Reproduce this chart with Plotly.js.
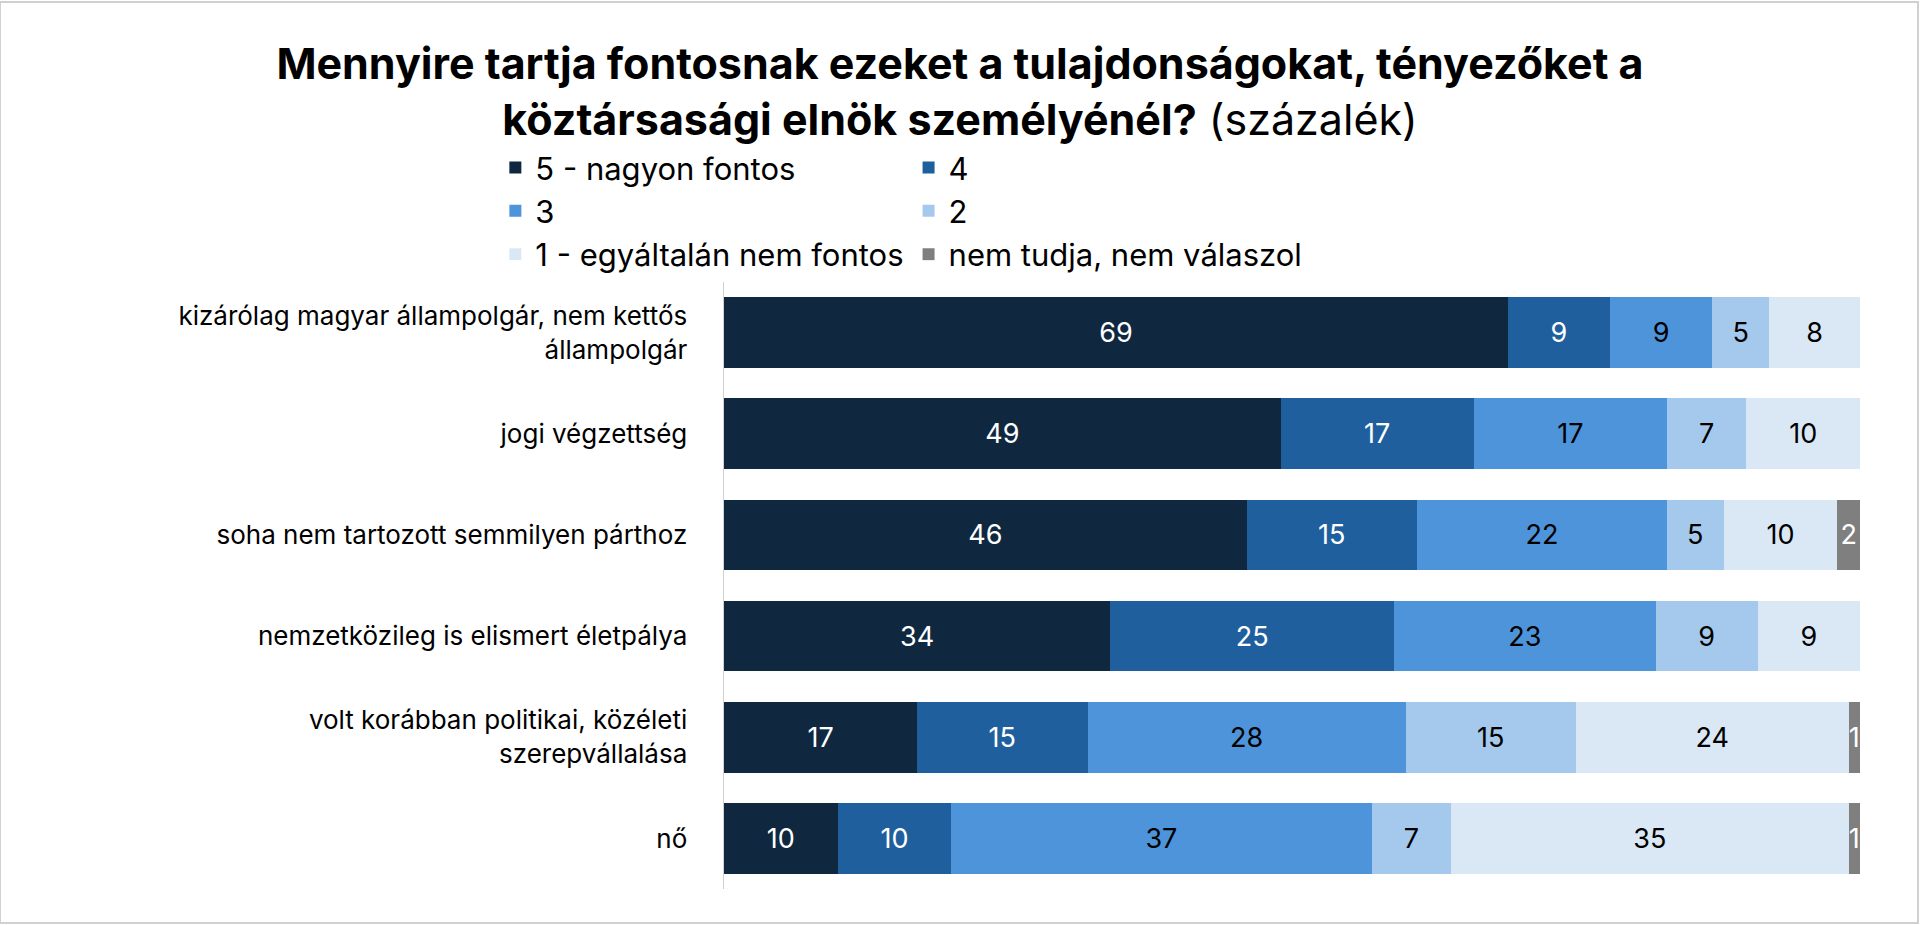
<!DOCTYPE html>
<html>
<head>
<meta charset="utf-8">
<script src="https://cdn.plot.ly/plotly-3.0.1.min.js"></script>
<style>
  html, body { margin: 0; padding: 0; background: #fff; }
  #chart { width: 1920px; height: 925px; }
</style>
</head>
<body>
<div id="chart"></div>
<script>
// Categories, top to bottom
const categories = [
    'kizárólag magyar állampolgár, nem kettős<br>állampolgár',
    'jogi végzettség',
    'soha nem tartozott semmilyen párthoz',
    'nemzetközileg is elismert életpálya',
    'volt korábban politikai, közéleti<br>szerepvállalása',
    'nő'
];

const seriesNames = ['5 - nagyon fontos', '4', '3', '2', '1 - egyáltalán nem fontos', 'nem tudja, nem válaszol'];

const v5 = [69, 49, 46, 34, 17, 10];
const v4 = [9, 17, 15, 25, 15, 10];
const v3 = [9, 17, 22, 23, 28, 37];
const v2 = [5, 7, 5, 9, 15, 7];
const v1 = [8, 10, 10, 9, 24, 35];
const vNa = [0, 0, 2, 0, 1, 1];

const colors = ['#0f2840', '#1f5f9e', '#4d94db', '#a4c9ec', '#dae8f6', '#7f7f7f'];
const textColors = ['#ffffff', '#ffffff', '#000000', '#000000', '#000000', '#ffffff'];

const allValues = [v5, v4, v3, v2, v1, vNa];

const traces = allValues.map((vals, i) => ({
    type: 'bar',
    orientation: 'h',
    name: seriesNames[i],
    y: categories,
    x: vals,
    marker: { color: colors[i] },
    text: vals.map(String),
    textposition: 'inside',
    insidetextanchor: 'middle',
    textangle: 0,
    constraintext: 'none',
    cliponaxis: false,
    textfont: { color: textColors[i], size: 27, family: 'Inter, sans-serif' },
    hoverinfo: 'x+name'
}));

const layout = {
    width: 1920,
    height: 925,
    barmode: 'stack',
    bargap: 0.3,
    font: { family: 'Inter, sans-serif', color: '#000' },
    paper_bgcolor: '#fff',
    plot_bgcolor: '#fff',
    title: {
        text: '<b>Mennyire tartja fontosnak ezeket a tulajdonságokat, tényezőket a<br>köztársasági elnök személyénél?</b> (százalék)',
        font: { size: 43, color: '#000' },
        x: 0.5,
        xanchor: 'center',
        y: 0.915,
        yanchor: 'middle'
    },
    margin: { l: 724, r: 60, t: 282, b: 36 },
    showlegend: true,
    legend: {
        orientation: 'h',
        xref: 'container',
        yref: 'container',
        x: 0.258,
        y: 0.772,
        xanchor: 'left',
        yanchor: 'middle',
        font: { size: 31 },
        traceorder: 'normal',
        itemwidth: 30,
        tracegroupgap: 0
    },
    xaxis: {
        range: [0, 100],
        showgrid: false,
        zeroline: false,
        showticklabels: false,
        fixedrange: true
    },
    yaxis: {
        autorange: 'reversed',
        showline: true,
        linecolor: '#d0d0d0',
        linewidth: 1.5,
        ticks: '',
        ticklabelstandoff: 30,
        tickfont: { size: 26 },
        fixedrange: true
    },
    shapes: [{
        type: 'rect', xref: 'paper', yref: 'paper',
        x0: -724 / 1136, x1: 1 + 58 / 1136, y0: -34 / 607, y1: 1 + 280 / 607,
        line: { color: '#d0d0d0', width: 2 }
    }]
};

document.addEventListener('DOMContentLoaded', () => {
    Plotly.newPlot('chart', traces, layout, { displayModeBar: false, staticPlot: true });
});
</script>
</body>
</html>
